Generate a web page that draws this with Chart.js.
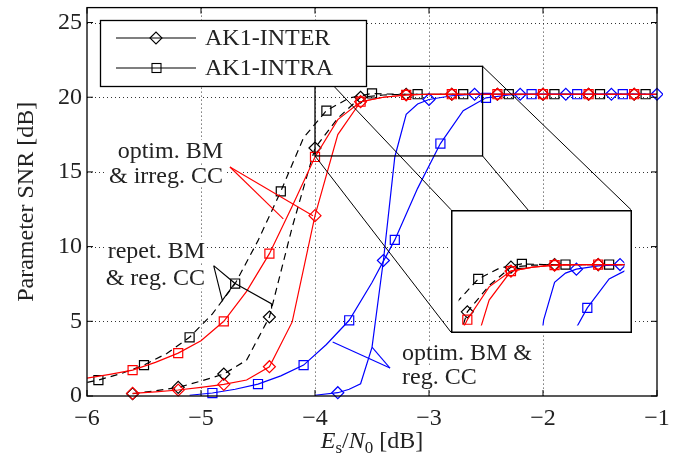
<!DOCTYPE html>
<html><head><meta charset="utf-8">
<script src="https://cdn.jsdelivr.net/npm/chart.js@4/dist/chart.umd.min.js"></script>
<style>
html,body{margin:0;padding:0;background:#fff;}
#wrap{position:relative;width:678px;height:466px;overflow:hidden;}
#main{position:absolute;left:0;top:0;}
#inset{position:absolute;}
</style></head><body>
<div id="wrap"><canvas id="main" width="678" height="466"></canvas><canvas id="inset" width="10" height="10"></canvas></div>
<script>
// ---------- data ----------
const xTicks = [-6, -5, -4, -3, -2, -1];
const yTicks = [0, 5, 10, 15, 20, 25];
const legendLabels = ['AK1-INTER', 'AK1-INTRA'];
const xTitle = ['E', 's', '/', 'N', '0', ' [dB]'];
const yTitle = 'Parameter SNR [dB]';

// optim. BM & irreg. CC (red)
const redInterX = [-5.6,-5.4,-5.2,-5.0,-4.8,-4.6,-4.4,-4.2,-4.0,-3.8,-3.6,-3.4,-3.2,-3.0,-2.8,-2.6,-2.4,-2.2,-2.0,-1.8,-1.6,-1.4,-1.2,-1.0];
const redInterY = [0.18,0.28,0.40,0.58,0.78,1.07,1.96,4.96,12.07,17.5,19.7,20.0,20.15,20.2,20.2,20.2,20.2,20.2,20.2,20.2,20.2,20.2,20.2,20.2];
const redIntraX = [-6.0,-5.8,-5.6,-5.4,-5.2,-5.0,-4.8,-4.6,-4.4,-4.2,-4.0,-3.8,-3.6,-3.4,-3.2,-3.0,-2.8,-2.6,-2.4,-2.2,-2.0,-1.8,-1.6,-1.4,-1.2,-1.0];
const redIntraY = [1.2,1.45,1.73,2.25,2.87,3.7,5.0,7.0,9.53,12.7,16.0,18.5,19.7,20.0,20.15,20.2,20.2,20.2,20.2,20.2,20.2,20.2,20.2,20.2,20.2,20.2];
// repet. BM & reg. CC (black dashed)
const blackInterX = [-5.6,-5.4,-5.2,-5.0,-4.8,-4.6,-4.4,-4.2,-4.0,-3.8,-3.6,-3.4,-3.2,-3.0,-2.8,-2.6,-2.4,-2.2,-2.0,-1.8,-1.6,-1.4,-1.2,-1.0];
const blackInterY = [0.15,0.35,0.58,1.0,1.47,2.4,5.29,11.3,16.6,18.6,20.0,20.15,20.2,20.2,20.2,20.2,20.2,20.2,20.2,20.2,20.2,20.2,20.2,20.2];
const blackIntraX = [-6.1,-5.9,-5.7,-5.5,-5.3,-5.1,-4.9,-4.7,-4.5,-4.3,-4.1,-3.9,-3.7,-3.5,-3.3,-3.1,-2.9,-2.7,-2.5,-2.3,-2.1,-1.9,-1.7,-1.5,-1.3,-1.1];
const blackIntraY = [0.75,1.07,1.5,2.07,2.85,3.93,5.5,7.53,10.4,13.7,17.3,19.1,19.95,20.25,20.2,20.2,20.2,20.2,20.2,20.2,20.2,20.2,20.2,20.2,20.2,20.2];
// optim. BM & reg. CC (blue)
const blueInterX = [-4.0,-3.8,-3.7,-3.6,-3.5,-3.4,-3.3,-3.2,-3.1,-3.0,-2.8,-2.6,-2.4,-2.2,-2.0,-1.8,-1.6,-1.4,-1.2,-1.0];
const blueInterY = [0.05,0.22,0.45,0.82,3.25,9.07,16.0,18.85,19.55,19.85,20.1,20.2,20.2,20.2,20.2,20.2,20.2,20.2,20.2,20.2];
const blueIntraX = [-5.1,-4.9,-4.7,-4.5,-4.3,-4.1,-3.9,-3.7,-3.5,-3.3,-3.1,-2.9,-2.7,-2.5,-2.3,-2.1,-1.9,-1.7,-1.5,-1.3,-1.1];
const blueIntraY = [0.05,0.2,0.45,0.8,1.35,2.07,3.45,5.07,7.6,10.45,13.9,16.9,19.1,19.96,20.15,20.2,20.2,20.2,20.2,20.2,20.2];
// first x with a marker, markers every 0.4
const markerStart = {redInter:-5.6, redIntra:-5.6, blackInter:-5.6, blackIntra:-5.9, blueInter:-3.8, blueIntra:-4.9};
const markerStep = 0.4;

// annotation texts
const annotTexts = [
  {lines:['optim. BM','& irreg. CC'], x:-4.807, ys:[16.4,14.73], align:'right'},
  {lines:['repet. BM','& reg. CC'], x:-4.965, ys:[9.73,7.93], align:'right'},
  {lines:['optim. BM &','reg. CC'], x:-3.237, ys:[2.93,1.27], align:'left'}
];
// annotation pointer lines (data coords)
const annotLines = [
  {color:'#ff0000', pts:[[-4.746,15.33],[-4.018,12.07]]},
  {color:'#ff0000', pts:[[-4.746,15.33],[-4.278,11.85]]},
  {color:'#000000', pts:[[-4.889,8.73],[-4.813,6.4],[-4.704,7.55],[-4.889,8.73]]},
  {color:'#000000', pts:[[-4.704,7.55],[-4.383,6.18],[-4.38,5.85]]},
  {color:'#0000ff', pts:[[-3.845,3.62],[-3.342,1.87]]},
  {color:'#0000ff', pts:[[-3.50,3.27],[-3.342,1.87]]}
];
// zoom box (data) and inset placement (data coords of main axes) + inset ranges
const zoomBox = {x0:-4.0, x1:-2.53, y0:16.07, y1:22.07};
const insetPlace = {x0:-2.807, x1:-1.228, y0:4.27, y1:12.47};
const insetRange = {x0:-4.08, x1:-2.56, y0:15.57, y1:23.77};

// ---------- helpers ----------
const SERIF = '"Liberation Serif", "Times New Roman", serif';
const fmt = v => v < 0 ? '\u2212' + Math.abs(v) : String(v);
const pairs = (xs, ys) => xs.map((x, i) => ({x, y: ys[i]}));
function markerRadius(start, r) {
  return ctx => {
    const p = ctx.raw; if (!p) return 0;
    const k = (p.x - start) / markerStep;
    return (k > -1e-6 && Math.abs(k - Math.round(k)) < 1e-6) ? r : 0;
  };
}
function makeDatasets() {
  const mk = (label, xs, ys, color, style, start, dashed) => ({
    label, data: pairs(xs, ys), borderColor: color, borderWidth: 1.2,
    borderDash: dashed ? [7, 5] : [], tension: 0, fill: false,
    pointStyle: style, pointRadius: markerRadius(start, style === 'rect' ? 6.4 : 6),
    pointHoverRadius: 0, pointBorderColor: color, pointBackgroundColor: 'rgba(0,0,0,0)',
    pointBorderWidth: 1.2, clip: {left: 0, top: 6, right: 6, bottom: 6}
  });
  return [
    mk('optim irreg INTER', redInterX, redInterY, '#ff0000', 'rectRot', markerStart.redInter, false),
    mk('optim irreg INTRA', redIntraX, redIntraY, '#ff0000', 'rect', markerStart.redIntra, false),
    mk('optim reg INTER', blueInterX, blueInterY, '#0000ff', 'rectRot', markerStart.blueInter, false),
    mk('optim reg INTRA', blueIntraX, blueIntraY, '#0000ff', 'rect', markerStart.blueIntra, false),
    mk('repet reg INTER', blackInterX, blackInterY, '#000000', 'rectRot', markerStart.blackInter, true),
    mk('repet reg INTRA', blackIntraX, blackIntraY, '#000000', 'rect', markerStart.blackIntra, true)
  ];
}
function seg(ctx, x0, y0, x1, y1) { ctx.beginPath(); ctx.moveTo(x0, y0); ctx.lineTo(x1, y1); ctx.stroke(); }
function diamond(ctx, x, y, r) { ctx.beginPath(); ctx.moveTo(x - r, y); ctx.lineTo(x, y - r); ctx.lineTo(x + r, y); ctx.lineTo(x, y + r); ctx.closePath(); ctx.stroke(); }

const mainDecor = {
  id: 'mainDecor',
  beforeDatasetsDraw(chart) {
    const {ctx, chartArea: a, scales: {x, y}} = chart;
    ctx.save();
    ctx.strokeStyle = '#333'; ctx.lineWidth = 1; ctx.setLineDash([1, 3]);
    xTicks.forEach(v => { if (v <= x.min || v >= x.max) return; const px = Math.round(x.getPixelForValue(v)) + 0.5; seg(ctx, px, a.top, px, a.bottom); });
    yTicks.forEach(v => { if (v <= y.min || v >= y.max) return; const py = Math.round(y.getPixelForValue(v)) + 0.5; seg(ctx, a.left, py, a.right, py); });
    ctx.restore();
  },
  afterDatasetsDraw(chart) {
    const {ctx, chartArea: a, scales: {x, y}} = chart;
    const X = v => x.getPixelForValue(v), Y = v => y.getPixelForValue(v);
    ctx.save();
    ctx.setLineDash([]);
    // zoom box + connectors
    ctx.strokeStyle = '#000'; ctx.lineWidth = 1.3;
    const bx0 = X(zoomBox.x0), bx1 = X(zoomBox.x1), by0 = Y(zoomBox.y1), by1 = Y(zoomBox.y0);
    ctx.strokeRect(bx0, by0, bx1 - bx0, by1 - by0);
    const ix0 = X(insetPlace.x0), ix1 = X(insetPlace.x1), iy0 = Y(insetPlace.y1), iy1 = Y(insetPlace.y0);
    ctx.lineWidth = 1;
    seg(ctx, bx0, by0, ix0, iy0); seg(ctx, bx1, by0, ix1, iy0);
    seg(ctx, bx0, by1, ix0, iy1); seg(ctx, bx1, by1, ix1, iy1);
    // annotation lines
    annotLines.forEach(l => {
      ctx.strokeStyle = l.color; ctx.lineWidth = 1.1; ctx.beginPath();
      l.pts.forEach((p, i) => i ? ctx.lineTo(X(p[0]), Y(p[1])) : ctx.moveTo(X(p[0]), Y(p[1])));
      ctx.stroke();
    });
    // annotation texts
    ctx.font = '24px ' + SERIF; ctx.textBaseline = 'middle';
    annotTexts.forEach(t => {
      t.lines.forEach((s, i) => {
        const w = ctx.measureText(s).width, px = X(t.x), py = Y(t.ys[i]);
        const left = t.align === 'right' ? px - w : px;
        ctx.fillStyle = '#fff'; ctx.fillRect(left - 2, py - 11, w + 4, 22);
        ctx.fillStyle = '#222'; ctx.textAlign = t.align; ctx.fillText(s, px, py + 1);
      });
    });
    // legend
    const L = {x: 100.5, y: 20.5, w: 266, h: 66};
    ctx.fillStyle = '#fff'; ctx.fillRect(L.x, L.y, L.w, L.h);
    ctx.strokeStyle = '#000'; ctx.lineWidth = 1.3; ctx.strokeRect(L.x, L.y, L.w, L.h);
    ctx.lineWidth = 1.1;
    [38, 68].forEach((ry, i) => {
      seg(ctx, 116, ry, 196, ry);
      if (i === 0) diamond(ctx, 156, ry, 6); else ctx.strokeRect(152, ry - 4.5, 9, 9);
      ctx.fillStyle = '#222'; ctx.textAlign = 'left'; ctx.textBaseline = 'middle';
      ctx.font = '24px ' + SERIF; ctx.fillText(legendLabels[i], 205, ry + 1);
    });
    // frame + inward ticks
    ctx.strokeStyle = '#000'; ctx.lineWidth = 1.3;
    ctx.strokeRect(a.left, a.top, a.right - a.left, a.bottom - a.top);
    ctx.lineWidth = 1;
    xTicks.forEach(v => { const px = X(v); seg(ctx, px, a.bottom, px, a.bottom - 6); seg(ctx, px, a.top, px, a.top + 6); });
    yTicks.forEach(v => { const py = Y(v); seg(ctx, a.left, py, a.left + 6, py); seg(ctx, a.right, py, a.right - 6, py); });
    // axis titles
    ctx.fillStyle = '#222';
    ctx.save(); ctx.translate(27, (a.top + a.bottom) / 2); ctx.rotate(-Math.PI / 2);
    ctx.font = '24px ' + SERIF; ctx.textAlign = 'center'; ctx.textBaseline = 'middle'; ctx.fillText(yTitle, 0, 0);
    ctx.restore();
    const parts = [
      {t: xTitle[0], f: 'italic 24px ', dy: 0}, {t: xTitle[1], f: '17px ', dy: 5},
      {t: xTitle[2], f: '24px ', dy: 0}, {t: xTitle[3], f: 'italic 24px ', dy: 0},
      {t: xTitle[4], f: '17px ', dy: 5}, {t: xTitle[5], f: '24px ', dy: 0}
    ];
    let tw = 0; parts.forEach(p => { ctx.font = p.f + SERIF; p.w = ctx.measureText(p.t).width; tw += p.w; });
    let cx = (a.left + a.right) / 2 - tw / 2; const base = 448;
    ctx.textAlign = 'left'; ctx.textBaseline = 'alphabetic';
    parts.forEach(p => { ctx.font = p.f + SERIF; ctx.fillText(p.t, cx, base + p.dy); cx += p.w; });
    ctx.restore();
  }
};

function noPad(s) { s.paddingTop = 0; s.paddingBottom = 0; s.paddingLeft = 0; s.paddingRight = 0; }

function build() {
  const main = new Chart(document.getElementById('main'), {
    type: 'line',
    data: {datasets: makeDatasets()},
    options: {
      responsive: false, animation: false, devicePixelRatio: 1,
      layout: {padding: {top: 6, right: 21, left: 0, bottom: 0}},
      plugins: {legend: {display: false}, tooltip: {enabled: false}},
      scales: {
        x: {type: 'linear', min: -6, max: -1,
          afterBuildTicks: s => { s.ticks = xTicks.map(v => ({value: v})); },
          afterFit: s => { s.height = 70; noPad(s); },
          ticks: {callback: v => fmt(v), font: {family: SERIF, size: 24}, color: '#222', padding: 8, maxRotation: 0, autoSkip: false},
          grid: {display: false, drawTicks: false}, border: {display: false}},
        y: {type: 'linear', min: 0, max: 26,
          afterBuildTicks: s => { s.ticks = yTicks.map(v => ({value: v})); },
          afterFit: s => { s.width = 87; noPad(s); },
          ticks: {callback: v => fmt(v), font: {family: SERIF, size: 24}, color: '#222', padding: 5, autoSkip: false},
          grid: {display: false, drawTicks: false}, border: {display: false}}
      }
    },
    plugins: [mainDecor]
  });
  const X = v => main.scales.x.getPixelForValue(v), Y = v => main.scales.y.getPixelForValue(v);
  const left = Math.round(X(insetPlace.x0)), right = Math.round(X(insetPlace.x1));
  const top = Math.round(Y(insetPlace.y1)), bottom = Math.round(Y(insetPlace.y0));
  const ic = document.getElementById('inset');
  ic.width = right - left + 1; ic.height = bottom - top + 1;
  ic.style.left = left + 'px'; ic.style.top = top + 'px';
  const insetFrame = {
    id: 'insetFrame',
    beforeDraw(c) { c.ctx.save(); c.ctx.fillStyle = '#fff'; c.ctx.fillRect(0, 0, c.width, c.height); c.ctx.restore(); },
    afterDraw(c) { const g = c.ctx; g.save(); g.strokeStyle = '#000'; g.lineWidth = 1.5; g.setLineDash([]); g.strokeRect(0.75, 0.75, c.width - 1.5, c.height - 1.5); g.restore(); }
  };
  new Chart(ic, {
    type: 'line',
    data: {datasets: makeDatasets().map(d => Object.assign(d, {clip: 0}))},
    options: {
      responsive: false, animation: false, devicePixelRatio: 1,
      layout: {padding: 0},
      plugins: {legend: {display: false}, tooltip: {enabled: false}},
      scales: {
        x: {type: 'linear', display: false, min: insetRange.x0, max: insetRange.x1},
        y: {type: 'linear', display: false, min: insetRange.y0, max: insetRange.y1}
      }
    },
    plugins: [insetFrame]
  });
}
if (document.fonts && document.fonts.load) {
  Promise.all([document.fonts.load('24px "Liberation Serif"'), document.fonts.load('italic 24px "Liberation Serif"')]).then(build, build);
} else build();
</script>
</body></html>
